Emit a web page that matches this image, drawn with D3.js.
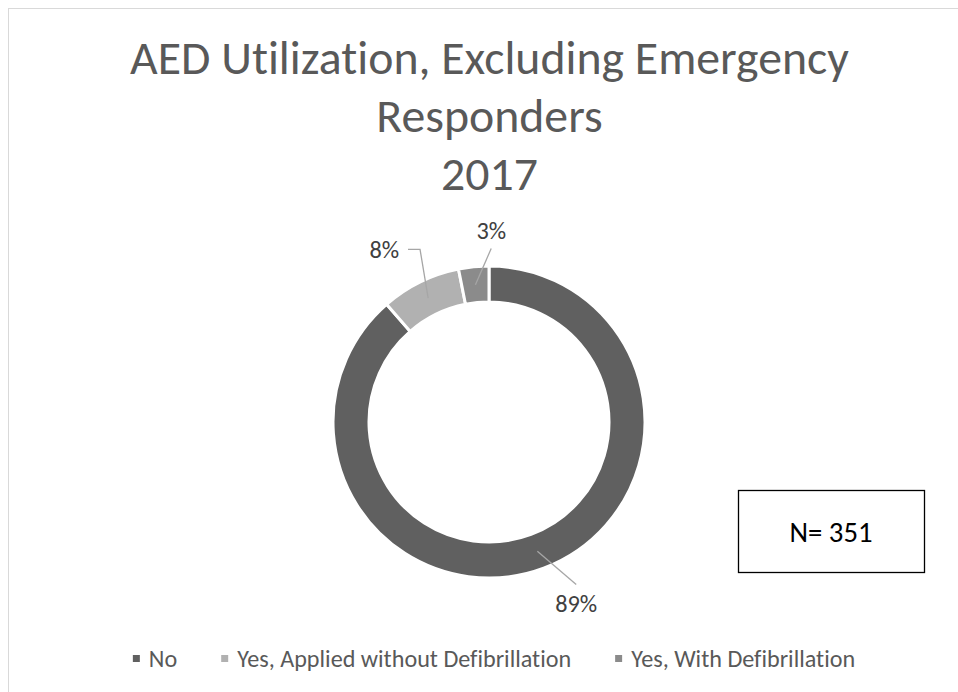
<!DOCTYPE html>
<html>
<head>
<meta charset="utf-8">
<script src="https://cdn.jsdelivr.net/npm/d3@7"></script>
<style>
  body { margin: 0; background: #fff; }
  svg { display: block; font-family: Carlito, Calibri, "Open Sans", sans-serif; font-variant-ligatures: none; }
</style>
</head>
<body>
<svg id="chart" width="958" height="692"></svg>
<script>
// data (N = 351)
var categories = ["No", "Yes, Applied without Defibrillation", "Yes, With Defibrillation"];
var counts = [311, 29, 11];
var colors = ["#606060", "#b1b1b1", "#8b8b8b"];
var titleLines = ["AED Utilization, Excluding Emergency", "Responders", "2017"];
var nLabel = "N= 351";

// label placement around the ring (degrees off slice middle, radius)
var labelShift = [-5.2, -5.1, 6.3];
var labelRadius = [201, 202, 192];

var svg = d3.select("#chart"),
    width = +svg.attr("width"),
    height = +svg.attr("height");

var cx = 489, cy = 422, outerR = 156, innerR = 120;
var total = d3.sum(counts);

// chart area border
svg.append("rect")
  .attr("x", 8.5).attr("y", 8.5)
  .attr("width", width).attr("height", height)
  .attr("fill", "none").attr("stroke", "#d9d9d9");

// scale a font so a text gets a given width
function fit(sel, target) {
  var s = parseFloat(sel.style("font-size"));
  var w = sel.node().getComputedTextLength();
  return s * target / w;
}

// title
var title = svg.append("g").attr("fill", "#595959");
var t0 = title.append("text").style("font-size", "40px").text(titleLines[0]);
var tSize = fit(t0, 719);
t0.remove();
titleLines.forEach(function(l, i) {
  title.append("text")
    .attr("x", 489.5).attr("y", 74 + i * 58)
    .attr("text-anchor", "middle")
    .style("font-size", tSize + "px")
    .text(l);
});

// donut
var pie = d3.pie().sort(null).value(function(d) { return d; });
var arcs = pie(counts);
var arc = d3.arc().innerRadius(innerR).outerRadius(outerR);

var g = svg.append("g").attr("transform", "translate(" + cx + "," + cy + ")");
g.selectAll("path.slice")
  .data(arcs)
  .enter().append("path")
  .attr("class", "slice")
  .attr("d", arc)
  .attr("fill", function(d, i) { return colors[i]; })
  .attr("stroke", "#fff")
  .attr("stroke-width", 3);

// data labels with leader lines
var lab0 = svg.append("text").style("font-size", "20px").text("89%");
var lSize = fit(lab0, 42);
lab0.remove();

arcs.forEach(function(d, i) {
  var pct = Math.round(d.value / total * 100) + "%";
  var mid = (d.startAngle + d.endAngle) / 2;
  var a = mid + labelShift[i] * Math.PI / 180;
  var lx = labelRadius[i] * Math.sin(a),
      ly = -labelRadius[i] * Math.cos(a);
  var c = arc.centroid(d);

  var t = g.append("text")
    .attr("x", lx).attr("y", ly)
    .attr("dy", "0.35em")
    .attr("text-anchor", "middle")
    .attr("fill", "#404040")
    .style("font-size", lSize + "px")
    .text(pct);
  var hw = t.node().getComputedTextLength() / 2;

  var pts;
  if (c[0] > lx + hw + 25) {
    pts = [[lx + hw + 9, ly], [lx + hw + 21, ly], c];
  } else if (c[0] < lx - hw - 25) {
    pts = [[lx - hw - 9, ly], [lx - hw - 21, ly], c];
  } else {
    var sy = c[1] > ly ? ly + 18.5 : ly - 18.5;
    pts = [[lx, sy], c];
  }
  g.append("path")
    .attr("d", d3.line()(pts))
    .attr("fill", "none")
    .attr("stroke", "#a6a6a6")
    .attr("stroke-width", 1.3);
});

// N box
var box = svg.append("g");
box.append("rect")
  .attr("x", 738.5).attr("y", 490.5)
  .attr("width", 186).attr("height", 82)
  .attr("fill", "#fff").attr("stroke", "#000").attr("stroke-width", 1.3);
var nt = box.append("text").style("font-size", "24px").text(nLabel);
nt.style("font-size", fit(nt, 83) + "px")
  .attr("x", 831).attr("y", 532)
  .attr("dy", "0.35em")
  .attr("text-anchor", "middle")
  .attr("fill", "#000");

// legend
var legend = svg.append("g").attr("fill", "#595959");
var probe = legend.append("text").style("font-size", "18px").text(categories[1]);
var legSize = fit(probe, 334);
probe.remove();

var items = legend.selectAll("g.item")
  .data(categories)
  .enter().append("g").attr("class", "item");
items.append("rect")
  .attr("width", 7).attr("height", 7)
  .attr("y", 655)
  .attr("fill", function(d, i) { return colors[i]; });
items.append("text")
  .attr("x", 16).attr("y", 659)
  .attr("dy", "0.35em")
  .style("font-size", legSize + "px")
  .text(function(d) { return d; });

var widths = [];
items.each(function() {
  widths.push(16 + d3.select(this).select("text").node().getComputedTextLength());
});
var gap = 44;
var legW = d3.sum(widths) + gap * (widths.length - 1);
var x0 = 494 - legW / 2;
items.attr("transform", function(d, i) {
  var x = x0 + d3.sum(widths.slice(0, i)) + gap * i;
  return "translate(" + x + ",0)";
});
</script>
</body>
</html>
